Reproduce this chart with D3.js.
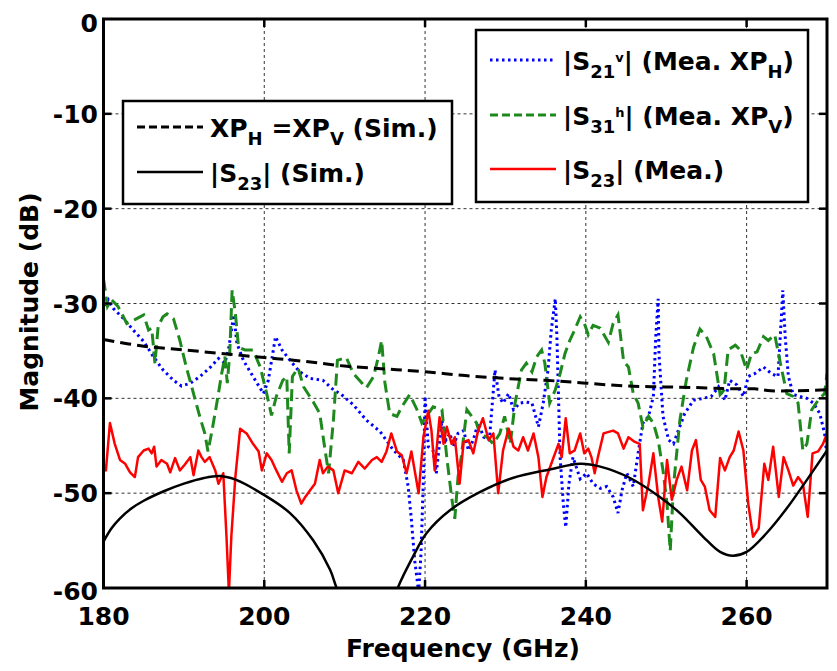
<!DOCTYPE html>
<html>
<head>
<meta charset="utf-8">
<script src="https://cdn.jsdelivr.net/npm/d3@7/dist/d3.min.js"></script>
<style>
  body { margin: 0; background: #fff; }
  text { font-family: "DejaVu Sans", sans-serif; font-weight: bold; fill: #000; }
</style>
</head>
<body>
<div id="chart"></div>
<script>
// axis ticks
var xTicks = [180, 200, 220, 240, 260];
var yTicks = [0, -10, -20, -30, -40, -50, -60];

// simulated cross-pol (XP_H = XP_V)
var simXP = [[180,-33.8],[185,-34.5],[190,-34.9],[195,-35.3],[200,-35.7],[205,-36.1],[210,-36.6],
  [215,-36.9],[220,-37.2],[225,-37.6],[230,-37.9],[235,-38.1],[240,-38.4],[245,-38.7],[250,-38.8],
  [255,-38.9],[258,-39.0],[261,-39.0],[263,-39.2],[266,-39.2],[270,-39.1]];

// simulated |S23| (goes below -60 between ~209 and ~217 GHz)
var simS23 = [[180,-55.1],[181,-53.7],[182,-52.7],[183.5,-51.6],[185,-50.8],[187.5,-49.8],
  [190,-49.0],[192.5,-48.4],[194.5,-48.2],[196.5,-48.6],[199.8,-50.1],[203.2,-52.1],[206.1,-55.0],
  [208.2,-58.1],[209,-60],[211,-64],[213,-66],[215,-64],[216.6,-60],[218.5,-56.7],[220.2,-54.2],
  [223.1,-51.8],[226.8,-49.9],[230.9,-48.4],[235.5,-47.5],[239.3,-46.9],[241.8,-47.2],[245.5,-48.4],
  [249.2,-50.4],[251.7,-52.1],[254.6,-54.6],[256.7,-56.2],[258.3,-56.6],[260,-56.2],[262.5,-54.2],
  [265,-51.6],[267.5,-48.6],[270,-45.5]];

// measured |S21v| (XP_H)
var meaS21 = [[180,-30.3],[180.6,-29.6],[181.2,-30.5],[182.5,-31.6],[183.7,-32.8],[185,-34.0],
  [186.2,-35.6],[187.4,-37.0],[188.7,-38.1],[189.7,-38.7],[190.8,-38.4],[192,-37.7],[193.2,-36.8],
  [194.3,-35.8],[195.1,-36.3],[195.6,-34.6],[196.2,-31.2],[196.6,-34.2],[197.4,-36.0],[198.6,-37.7],
  [199.9,-39.5],[200.5,-38.1],[201.4,-33.5],[202.2,-34.9],[203.2,-36.0],[204.4,-37.2],[205.7,-37.9],
  [207.3,-38.1],[208.6,-39.1],[209.6,-39.6],[211.1,-40.7],[212.7,-42.3],[214.4,-43.5],[216.1,-45.5],
  [217.3,-46.5],[217.9,-49.3],[218.3,-52.8],[218.7,-57.0],[219.2,-60.4],[219.5,-56.3],[219.8,-48.3],
  [220,-39.8],[220.4,-45.1],[221,-45.5],[221.4,-47.9],[222.1,-42.3],[222.6,-44.4],[223.1,-43.7],
  [223.5,-45.1],[224.1,-43.7],[224.8,-43.4],[225.4,-45.5],[226,-44.4],[226.6,-42.6],[227.3,-44.1],
  [228,-44.4],[228.7,-37.0],[229.2,-39.8],[229.7,-40.5],[230.4,-39.5],[231,-41.2],[231.8,-40.5],
  [232.6,-40.4],[233.3,-40.5],[234.1,-43.0],[234.7,-40.5],[235.3,-37.0],[235.7,-32.8],[236.2,-29.5],
  [236.4,-33.5],[236.8,-46.2],[237.2,-51.1],[237.5,-53.6],[237.9,-49.0],[238.4,-46.2],[239.3,-48.5],
  [240.1,-47.9],[240.9,-49.0],[241.8,-49.5],[242.6,-49.3],[243.4,-50.4],[244,-52.1],[244.5,-49.7],
  [245.1,-47.9],[245.9,-49.3],[246.5,-45.8],[247.1,-42.6],[247.8,-41.9],[248.4,-39.8],[248.7,-33.5],
  [249,-29.5],[249.1,-35.3],[249.6,-41.9],[250.3,-44.4],[250.9,-44.8],[251.5,-43.4],[252.3,-41.6],
  [253.4,-40.2],[254.6,-40.0],[255.6,-39.8],[256.5,-38.8],[257.3,-40.2],[257.9,-38.1],[258.8,-38.6],
  [259.6,-39.8],[260.2,-37.7],[261,-37.4],[262.1,-36.7],[263.1,-37.4],[263.9,-37.7],[264.3,-31.8],
  [264.5,-28.6],[264.8,-33.5],[265.2,-37.7],[265.8,-39.6],[266.6,-39.8],[267.5,-40.0],[268.3,-40.5],
  [269.1,-41.6],[269.7,-43.7],[270,-46.2]];

// measured |S31h| (XP_V)
var meaS31 = [[180,-27.4],[180.5,-30.3],[181,-29.6],[181.8,-30.3],[182.9,-32.1],[183.9,-31.7],
  [185,-31.2],[185.6,-32.8],[186,-32.6],[186.4,-36.3],[186.8,-32.4],[187.4,-31.4],[187.9,-31.1],
  [188.7,-31.6],[189.5,-33.9],[190.3,-36.7],[191.2,-39.5],[192,-42.0],[192.6,-43.7],[193,-45.6],
  [193.5,-43.4],[194.1,-40.5],[194.7,-37.4],[195.1,-35.6],[195.4,-38.4],[195.7,-35.3],[196,-28.6],
  [196.4,-31.0],[196.8,-34.6],[197.6,-34.9],[198.6,-34.9],[199.5,-36.7],[200.3,-39.5],[200.9,-41.8],
  [201.5,-39.8],[202.3,-38.1],[202.8,-37.7],[203.1,-45.8],[203.5,-37.7],[204.2,-36.8],[204.9,-38.8],
  [206.1,-40.4],[206.9,-41.6],[207.5,-45.1],[208,-47.9],[208.6,-42.3],[209.1,-36.0],[209.8,-35.8],
  [210.2,-35.7],[211.1,-37.4],[212.7,-38.9],[213.6,-37.7],[214.2,-35.6],[214.6,-33.9],[215,-38.3],
  [215.6,-41.6],[216.5,-41.9],[217.1,-40.9],[218.1,-39.6],[219,-41.2],[219.6,-42.6],[220.4,-41.6],
  [221,-40.9],[222.1,-41.2],[222.7,-46.2],[223.3,-50.4],[223.7,-52.7],[224.1,-48.3],[224.5,-46.2],
  [225.2,-41.2],[225.8,-41.9],[226.4,-42.6],[226.8,-43.7],[227.7,-44.1],[228.5,-44.8],[229.3,-43.7],
  [229.9,-41.9],[230.6,-44.8],[231.2,-40.5],[232,-37.0],[232.6,-36.3],[233.3,-37.2],[233.9,-35.6],
  [234.5,-34.9],[234.9,-36.3],[235.5,-40.5],[236.2,-39.1],[236.8,-37.4],[237.4,-35.3],[238,-33.9],
  [238.6,-32.8],[239.3,-31.4],[239.9,-32.3],[240.3,-33.3],[240.9,-32.3],[241.8,-32.6],[242.8,-34.1],
  [243.4,-32.1],[244,-31.2],[244.7,-36.1],[245.3,-36.7],[245.9,-39.5],[246.5,-40.5],[247.1,-43.0],
  [247.8,-41.9],[248.4,-42.6],[249,-44.4],[249.6,-47.6],[250.1,-51.1],[250.5,-56.1],[250.9,-49.3],
  [251.7,-42.3],[252.5,-38.1],[253.4,-34.6],[254.2,-32.7],[255,-33.5],[255.9,-35.3],[256.7,-39.6],
  [257.2,-39.1],[257.7,-34.9],[258.6,-34.4],[259.2,-34.9],[260,-37.0],[260.6,-35.3],[261.3,-35.1],
  [262.1,-33.5],[262.7,-33.9],[263.5,-33.3],[264.2,-36.3],[265,-39.5],[265.8,-39.8],[266.4,-40.5],
  [267,-45.5],[267.5,-44.8],[268.1,-41.2],[268.9,-40.2],[269.7,-39.5],[270,-37.4]];

// measured |S23|
var meaS23 = [[180,-46.9],[180.3,-47.6],[180.8,-42.6],[181.4,-44.8],[182.05,-46.5],[182.7,-46.9],
  [183.3,-47.8],[183.9,-48.3],[184.3,-46.2],[185,-45.5],[185.6,-45.3],[186,-45.8],[186.3,-45.1],
  [186.6,-47.2],[187.2,-46.5],[187.9,-46.9],[188.3,-47.8],[188.9,-46.3],[189.5,-47.6],[190.1,-47.0],
  [190.8,-46.2],[191.2,-48.1],[191.8,-45.5],[192.2,-46.2],[192.6,-46.7],[193.2,-46.2],[193.9,-47.6],
  [194.3,-49.0],[194.9,-47.9],[195.3,-54.6],[195.6,-60.5],[195.9,-54.6],[196.4,-48.3],[197,-43.2],
  [197.8,-43.7],[198.6,-44.8],[199.3,-45.6],[199.7,-47.6],[200.3,-45.8],[200.9,-46.5],[201.5,-47.6],
  [202.2,-48.8],[202.8,-47.9],[203.4,-47.6],[204,-49.7],[204.6,-51.1],[205.1,-50.4],[205.7,-49.7],
  [206.3,-49.0],[206.9,-46.5],[207.3,-47.9],[207.9,-47.2],[208.6,-47.6],[209.2,-50.0],[210,-47.6],
  [210.9,-47.9],[211.7,-46.7],[212.5,-47.4],[213.4,-46.5],[214,-46.2],[214.6,-46.7],[215.2,-45.6],
  [215.8,-43.7],[216.5,-45.6],[217.1,-46.0],[217.7,-47.9],[218.3,-45.6],[219.2,-50.0],[219.8,-44.1],
  [220.4,-41.3],[220.8,-43.4],[221.2,-47.6],[221.8,-42.0],[222.3,-44.8],[222.7,-43.0],[223.3,-44.8],
  [223.7,-44.1],[224.3,-49.0],[224.8,-44.6],[225.4,-44.4],[226,-45.8],[226.6,-43.4],[227.2,-42.1],
  [227.9,-44.4],[228.5,-43.7],[229.1,-50.0],[229.7,-45.5],[230.4,-43.2],[231,-45.1],[231.6,-45.5],
  [232.2,-44.1],[232.8,-45.5],[233.5,-43.7],[234.1,-46.2],[234.6,-50.4],[235.1,-48.3],[235.7,-46.9],
  [236.6,-44.8],[237,-46.2],[237.5,-42.1],[238,-45.8],[238.6,-45.5],[239.3,-43.7],[239.8,-45.8],
  [240.3,-45.3],[240.7,-46.2],[241.1,-47.9],[241.5,-46.2],[242.2,-43.7],[243.4,-43.4],[244,-43.7],
  [244.7,-45.3],[245.3,-44.1],[246.1,-44.6],[246.7,-44.8],[247.1,-51.8],[247.8,-49.0],[248.4,-45.8],
  [249,-50.4],[249.5,-53.0],[250.1,-46.5],[250.7,-50.7],[251.3,-48.6],[251.9,-47.2],[252.6,-49.7],
  [253.2,-45.5],[253.7,-44.4],[254.3,-48.6],[254.8,-49.3],[255.4,-51.8],[256.1,-52.5],[256.7,-46.3],
  [257.3,-47.6],[257.9,-46.2],[258.4,-45.5],[259,-43.5],[259.6,-45.5],[260.2,-51.1],[260.8,-54.6],
  [261.5,-53.7],[262.2,-46.9],[262.7,-48.6],[263.3,-45.1],[264,-50.4],[264.6,-46.2],[265.2,-47.6],
  [265.8,-49.2],[266.4,-48.3],[267,-49.0],[267.6,-52.5],[268.2,-45.8],[268.9,-45.6],[269.5,-44.8],
  [270,-43.7]];

var width = 837, height = 671;
var margin = { left: 103.5, right: 10, top: 19, bottom: 83 };

var svg = d3.select('#chart').append('svg')
  .attr('width', width).attr('height', height)
  .style('background-color', '#fff');

var x = d3.scaleLinear().domain([180, 270]).range([margin.left, width - margin.right]);
var y = d3.scaleLinear().domain([-60, 0]).range([height - margin.bottom, margin.top]);

var x0 = x.range()[0], x1 = x.range()[1], y0 = y.range()[0], y1 = y.range()[1];

svg.append('clipPath').attr('id', 'plot-clip')
  .append('rect').attr('x', x0).attr('y', y1).attr('width', x1 - x0).attr('height', y0 - y1);

// grid
var grid = svg.append('g').attr('stroke', '#333').attr('stroke-width', 1).attr('stroke-dasharray', '3,3');
grid.selectAll('.gx').data(xTicks.slice(1)).enter().append('line')
  .attr('x1', function (d) { return x(d); }).attr('x2', function (d) { return x(d); })
  .attr('y1', y1).attr('y2', y0);
grid.selectAll('.gy').data(yTicks.slice(1, -1)).enter().append('line')
  .attr('y1', function (d) { return y(d); }).attr('y2', function (d) { return y(d); })
  .attr('x1', x0).attr('x2', x1);

// series
var line = d3.line()
  .x(function (d) { return x(d[0]); })
  .y(function (d) { return y(d[1]); });
var smooth = d3.line()
  .x(function (d) { return x(d[0]); })
  .y(function (d) { return y(d[1]); })
  .curve(d3.curveCatmullRom);

var plot = svg.append('g').attr('clip-path', 'url(#plot-clip)').attr('fill', 'none');

plot.append('path').datum(meaS21).attr('d', line)
  .attr('stroke', '#0000ff').attr('stroke-width', 3).attr('stroke-dasharray', '2.5,3.5');
plot.append('path').datum(meaS31).attr('d', line)
  .attr('stroke', '#1e8a1e').attr('stroke-width', 3).attr('stroke-dasharray', '12,6');
plot.append('path').datum(meaS23).attr('d', line)
  .attr('stroke', '#ff0000').attr('stroke-width', 2.5).attr('stroke-linejoin', 'round');
plot.append('path').datum(simXP).attr('d', smooth)
  .attr('stroke', '#000').attr('stroke-width', 3).attr('stroke-dasharray', '11,6');
plot.append('path').datum(simS23).attr('d', smooth)
  .attr('stroke', '#000').attr('stroke-width', 2.5);

// axes box and inward ticks
var frame = svg.append('g').attr('stroke', '#000');
frame.append('rect').attr('x', x0).attr('y', y1).attr('width', x1 - x0).attr('height', y0 - y1)
  .attr('fill', 'none').attr('stroke-width', 3);
var tl = 8;
xTicks.slice(1).forEach(function (d) {
  frame.append('line').attr('x1', x(d)).attr('x2', x(d)).attr('y1', y0).attr('y2', y0 - tl).attr('stroke-width', 2.5);
  frame.append('line').attr('x1', x(d)).attr('x2', x(d)).attr('y1', y1).attr('y2', y1 + tl).attr('stroke-width', 2.5);
});
yTicks.slice(1, -1).forEach(function (d) {
  frame.append('line').attr('x1', x0).attr('x2', x0 + tl).attr('y1', y(d)).attr('y2', y(d)).attr('stroke-width', 2.5);
  frame.append('line').attr('x1', x1).attr('x2', x1 - tl).attr('y1', y(d)).attr('y2', y(d)).attr('stroke-width', 2.5);
});

// legends (white boxes drawn over grid, lines and ticks)
function legend(bx, by, bw, bh, items) {
  var g = svg.append('g');
  g.append('rect').attr('x', bx).attr('y', by).attr('width', bw).attr('height', bh)
    .attr('fill', '#fff').attr('stroke', '#000').attr('stroke-width', 2.5);
  items.forEach(function (it) {
    g.append('line').attr('x1', bx + 14).attr('x2', bx + 80).attr('y1', it.y).attr('y2', it.y)
      .attr('stroke', it.color).attr('stroke-width', it.w).attr('stroke-dasharray', it.dash);
    var t = g.append('text').attr('x', bx + 87).attr('y', it.y + 10).style('font-size', '25px');
    it.parts.forEach(function (p) {
      t.append('tspan').text(p[0]).style('font-size', p[1] + 'px').attr('dy', p[2]);
    });
  });
}

legend(123, 101, 329, 103, [
  { y: 127, color: '#000', w: 3, dash: '8,4',
    parts: [['XP', 25, 0], ['H', 18, 8], [' =XP', 25, -8], ['V', 18, 8], [' (Sim.)', 25, -8]] },
  { y: 172, color: '#000', w: 2.5, dash: null,
    parts: [['|S', 25, 0], ['23', 18, 8], ['| (Sim.)', 25, -8]] }
]);

legend(476, 30, 332, 172, [
  { y: 60, color: '#0000ff', w: 3, dash: '2.5,3.5',
    parts: [['|S', 25, 0], ['21', 18, 8], ['v', 13, -16], ['| (Mea. XP', 25, 8], ['H', 18, 8], [')', 25, -8]] },
  { y: 115, color: '#1e8a1e', w: 3, dash: '8,4',
    parts: [['|S', 25, 0], ['31', 18, 8], ['h', 13, -16], ['| (Mea. XP', 25, 8], ['V', 18, 8], [')', 25, -8]] },
  { y: 169, color: '#ff0000', w: 2.5, dash: null,
    parts: [['|S', 25, 0], ['23', 18, 8], ['| (Mea.)', 25, -8]] }
]);

// tick labels
svg.selectAll('.xl').data(xTicks).enter().append('text')
  .attr('x', function (d) { return x(d); }).attr('y', 625)
  .attr('text-anchor', 'middle').style('font-size', '25px')
  .text(function (d) { return d; });

svg.selectAll('.yl').data(yTicks).enter().append('text')
  .attr('x', 98)
  .attr('y', function (d) { return y(d) + (d === 0 ? 13 : d === -60 ? 12 : 9); })
  .attr('text-anchor', 'end').style('font-size', '25px')
  .text(function (d) { return d; });

// axis titles
svg.append('text').attr('x', 463).attr('y', 657).attr('text-anchor', 'middle')
  .style('font-size', '25px').text('Frequency (GHz)');
svg.append('text').attr('transform', 'translate(38,302) rotate(-90)').attr('text-anchor', 'middle')
  .style('font-size', '25px').text('Magnitude (dB)');
</script>
</body>
</html>
